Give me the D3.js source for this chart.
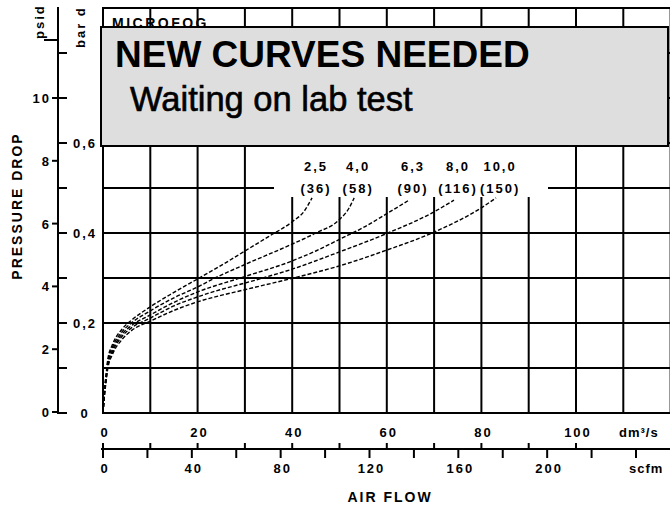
<!DOCTYPE html>
<html><head><meta charset="utf-8">
<script src="https://cdn.jsdelivr.net/npm/d3@7"></script>
<style>
html,body{margin:0;padding:0;background:#fff;}
svg{display:block;}
text{font-family:"Liberation Sans",Arial,sans-serif;fill:#000;}
</style></head><body>
<svg id="chart" width="670" height="506"></svg>
<script>
// ---- data ----
const flowTicksDm3 = [0, 20, 40, 60, 80, 100];
const flowTicksScfm = [0, 40, 80, 120, 160, 200];
const psidTicks = [0, 2, 4, 6, 8, 10];
const barTickLabels = [0, 0.2, 0.4, 0.6];
const barTickLabelText = ["0", "0,2", "0,4", "0,6"];
const seriesLabels = ["2,5", "4,0", "6,3", "8,0", "10,0"];
const seriesSubLabels = ["(36)", "(58)", "(90)", "(116)", "(150)"];
// [air flow dm3/s, pressure drop bar]
const curve_2_5 = [[0,0],[0.3,0.05],[0.7,0.09],[1,0.118],[2,0.152],[4,0.186],[6,0.206],[10,0.236],[15,0.268],[20,0.298],[25,0.328],[30,0.36],[35,0.392],[40,0.425],[42.5,0.448],[44.2,0.478]];
const curve_4_0 = [[0,0],[0.3,0.046],[0.7,0.086],[1,0.113],[2,0.146],[4,0.18],[6,0.2],[10,0.227],[15,0.256],[20,0.28],[23.7,0.3],[30,0.33],[39.5,0.373],[45,0.4],[50,0.43],[52,0.455],[53.1,0.478]];
const curve_6_3 = [[0,0],[0.3,0.043],[0.7,0.082],[1,0.108],[2,0.14],[4,0.175],[6,0.194],[10,0.218],[15,0.246],[20,0.269],[29,0.3],[39.5,0.336],[45,0.36],[50,0.386],[55,0.412],[60,0.443],[64.7,0.473]];
const curve_8_0 = [[0,0],[0.3,0.04],[0.7,0.078],[1,0.103],[2,0.135],[4,0.17],[6,0.189],[10,0.211],[15,0.238],[20,0.258],[33.8,0.3],[39.5,0.318],[50,0.358],[60,0.399],[70,0.447],[74.2,0.473]];
const curve_10_0 = [[0,0],[0.3,0.037],[0.7,0.074],[1,0.098],[2,0.13],[4,0.163],[6,0.183],[10,0.204],[15,0.228],[20,0.247],[30,0.274],[39.5,0.298],[50,0.327],[60,0.362],[70,0.402],[80,0.456],[83.1,0.478]];
const curves = [curve_2_5, curve_4_0, curve_6_3, curve_8_0, curve_10_0];

// ---- scales ----
const x = d3.scaleLinear().domain([0, 120]).range([103, 670.6]);
const y = d3.scaleLinear().domain([0, 0.9]).range([413, 8]);
const xScfm = d3.scaleLinear().domain([0, 240]).range([103, 636]);
const yPsi = d3.scaleLinear().domain([0, 10]).range([412, 98]);

const svg = d3.select("#chart");
const small = {"font-size": "13px", "font-weight": "bold", "letter-spacing": "2px"};
function applyAttrs(sel, o){ for (const k in o) sel.attr(k, o[k]); return sel; }

// ---- grid ----
const g = svg.append("g").attr("stroke", "#000").attr("stroke-width", 2);
d3.range(0, 13).forEach(i => {
  g.append("line").attr("x1", x(i*10)).attr("x2", x(i*10)).attr("y1", y(0.9)-1).attr("y2", y(0)+1);
});
d3.range(0, 10).forEach(i => {
  g.append("line").attr("x1", x(0)-1).attr("x2", 670).attr("y1", y(i/10)).attr("y2", y(i/10));
});
// blank label area
svg.append("rect").attr("x", 274).attr("y", 147).attr("width", 274).attr("height", 50).attr("fill", "#fff");

// ---- curves ----
const line = d3.line().x(d => x(d[0])).y(d => y(d[1])).curve(d3.curveMonotoneX);
svg.append("g").selectAll("path").data(curves).join("path")
  .attr("d", line).attr("fill", "none").attr("stroke", "#000")
  .attr("stroke-width", 1.4).attr("stroke-dasharray", "4,2");

// curve labels
curves.forEach((c, i) => {
  const end = c[c.length - 1];
  const cx = x(end[0]) + 4;
  applyAttrs(svg.append("text"), small).attr("x", cx).attr("y", 171).attr("text-anchor", "middle").text(seriesLabels[i]);
  applyAttrs(svg.append("text"), small).attr("x", cx).attr("y", 193).attr("text-anchor", "middle").text(seriesSubLabels[i]);
});

// ---- y axes ----
const ax = svg.append("g").attr("stroke", "#000").attr("stroke-width", 2);
ax.append("line").attr("x1", 58).attr("x2", 58).attr("y1", 7).attr("y2", y(0)+1);
d3.range(0, 9).forEach(i => {
  ax.append("line").attr("x1", 58).attr("x2", 67).attr("y1", y(i/10)).attr("y2", y(i/10));
});
psidTicks.forEach(v => {
  ax.append("line").attr("x1", 52).attr("x2", 58).attr("y1", yPsi(v)).attr("y2", yPsi(v));
});
ax.append("line").attr("x1", 44).attr("x2", 58).attr("y1", 40).attr("y2", 40);

psidTicks.forEach(v => {
  applyAttrs(svg.append("text"), small).attr("x", 51).attr("y", yPsi(v) + 5).attr("text-anchor", "end").text(v);
});
barTickLabels.forEach((v, i) => {
  applyAttrs(svg.append("text"), small).attr("x", 85).attr("y", y(v) + 5).attr("text-anchor", "middle").text(barTickLabelText[i]);
});
applyAttrs(svg.append("text"), small).attr("transform", "translate(44,39) rotate(-90)").text("psid");
applyAttrs(svg.append("text"), small).attr("transform", "translate(85,48) rotate(-90)").text("bar d");
svg.append("text").attr("transform", "translate(22,206) rotate(-90)").attr("text-anchor", "middle")
  .attr("font-size", "14px").attr("font-weight", "bold").attr("letter-spacing", "2px").text("PRESSURE DROP");

// ---- x axes ----
flowTicksDm3.forEach(v => {
  applyAttrs(svg.append("text"), small).attr("x", x(v) + 2).attr("y", 437).attr("text-anchor", "middle").text(v);
});
applyAttrs(svg.append("text"), small).attr("x", 619).attr("y", 437).attr("letter-spacing", "1px").text("dm³/s");

const bx = svg.append("g").attr("stroke", "#000").attr("stroke-width", 2);
bx.append("line").attr("x1", 101).attr("x2", 670).attr("y1", 449).attr("y2", 449);
d3.range(0, 11).forEach(i => {
  bx.append("line").attr("x1", x(i*10)).attr("x2", x(i*10)).attr("y1", 443).attr("y2", 449);
});
d3.range(0, 13).forEach(i => {
  bx.append("line").attr("x1", xScfm(i*20)).attr("x2", xScfm(i*20)).attr("y1", 449).attr("y2", 458);
});
flowTicksScfm.forEach(v => {
  applyAttrs(svg.append("text"), small).attr("x", xScfm(v) + 2).attr("y", 473).attr("text-anchor", "middle").text(v);
});
applyAttrs(svg.append("text"), small).attr("x", 629).attr("y", 473).attr("letter-spacing", "1px").text("scfm");
svg.append("text").attr("x", 390).attr("y", 502).attr("text-anchor", "middle")
  .attr("font-size", "14px").attr("font-weight", "bold").attr("letter-spacing", "2px").text("AIR FLOW");

// ---- title & overlay box ----
svg.append("text").attr("x", 112).attr("y", 28).attr("font-size", "14px").attr("font-weight", "bold")
  .attr("letter-spacing", "2.5px").text("MICROFOG");

svg.append("rect").attr("x", 101).attr("y", 27).attr("width", 567).attr("height", 119)
  .attr("fill", "#dedede").attr("stroke", "#000").attr("stroke-width", 2);
svg.append("text").attr("x", 115).attr("y", 67).attr("font-size", "37px").attr("font-weight", "bold")
  .text("NEW CURVES NEEDED");
svg.append("text").attr("x", 130).attr("y", 111).attr("font-size", "34.5px")
  .attr("stroke", "#000").attr("stroke-width", 0.6)
  .text("Waiting on lab test");
</script>
</body></html>
